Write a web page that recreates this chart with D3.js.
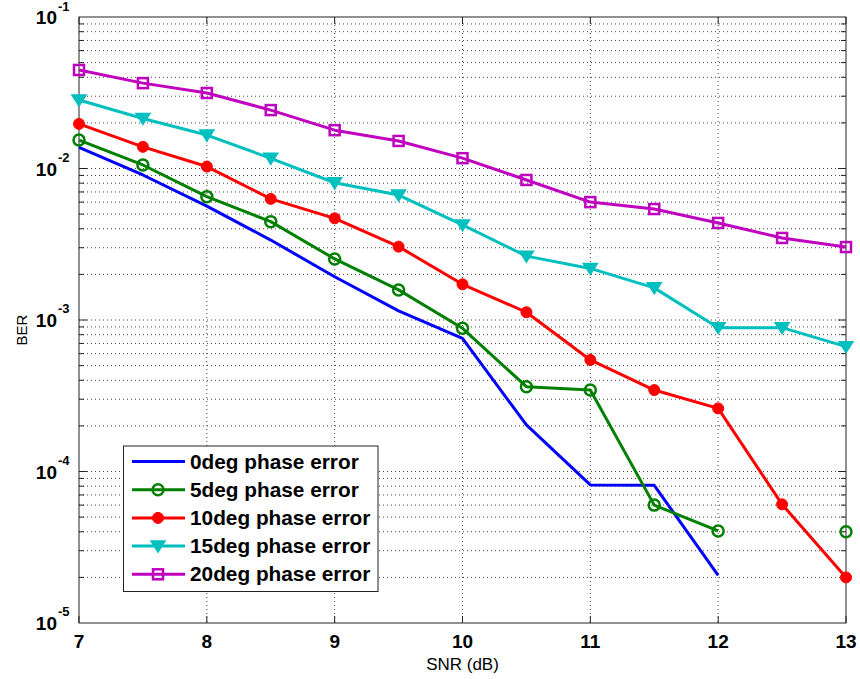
<!DOCTYPE html>
<html><head><meta charset="utf-8">
<script src="https://cdn.jsdelivr.net/npm/d3@7"></script>
<style>body{margin:0;background:#fff}svg{display:block;font-family:Arial,"Liberation Sans",sans-serif}</style>
</head><body>
<svg id="c" width="860" height="679"></svg>
<script>
const snr = [7, 7.5, 8, 8.5, 9, 9.5, 10, 10.5, 11, 11.5, 12, 12.5, 13];
const ber0 = [0.0138, 0.00906, 0.00565, 0.00337, 0.00193, 0.00115, 0.000757, 0.000203, 0.0000815, 0.000081, 0.0000206, null, null];
const ber5 = [0.0154, 0.01055, 0.00652, 0.00446, 0.00253, 0.00158, 0.000881, 0.000363, 0.000345, 0.00006, 0.0000405, null, 0.00004];
const ber10 = [0.0197, 0.0139, 0.0103, 0.0063, 0.00469, 0.00305, 0.00172, 0.001125, 0.000545, 0.000345, 0.000261, 0.0000607, 0.00002];
const ber15 = [0.0283, 0.0214, 0.01663, 0.01167, 0.00805, 0.00668, 0.00424, 0.00264, 0.00219, 0.00163, 0.00089, 0.00089, 0.000667];
const ber20 = [0.0447, 0.0366, 0.0315, 0.0243, 0.0179, 0.0152, 0.0117, 0.0084, 0.0060, 0.0054, 0.00437, 0.00348, 0.00303];
const seriesNames = ["0deg phase error", "5deg phase error", "10deg phase error", "15deg phase error", "20deg phase error"];
const xTicks = [7, 8, 9, 10, 11, 12, 13];
const yDecades = [-5, -4, -3, -2, -1];
const xLabel = "SNR (dB)";
const yLabel = "BER";

const series = [
  {name: seriesNames[0], values: ber0, color: "#0000ff", marker: "none"},
  {name: seriesNames[1], values: ber5, color: "#008000", marker: "circle"},
  {name: seriesNames[2], values: ber10, color: "#ff0000", marker: "dot"},
  {name: seriesNames[3], values: ber15, color: "#00bfbf", marker: "tri"},
  {name: seriesNames[4], values: ber20, color: "#bf00bf", marker: "square"}
];

const L = 79, R = 846, T = 17, B = 623;
const svg = d3.select("#c");
const x = d3.scaleLinear().domain([7, 13]).range([L, R]);
const y = d3.scaleLog().domain([1e-5, 1e-1]).range([B, T]);

// grid
const g = svg.append("g");
const minorVals = [];
for (let e = -5; e < -1; e++) for (let m = 1; m <= 9; m++) minorVals.push(m * Math.pow(10, e));
minorVals.push(1e-1);
g.selectAll("line.hg").data(minorVals.filter(v => v > 1e-5 && v < 1e-1)).join("line")
  .attr("x1", L).attr("x2", R).attr("y1", d => y(d)).attr("y2", d => y(d))
  .attr("stroke", "#444").attr("stroke-width", 1).attr("stroke-dasharray", "1,3");
g.selectAll("line.vg").data(xTicks.slice(1, -1)).join("line")
  .attr("x1", d => x(d)).attr("x2", d => x(d)).attr("y1", T).attr("y2", B)
  .attr("stroke", "#444").attr("stroke-width", 1).attr("stroke-dasharray", "1,3");

// axes box & ticks
const ax = svg.append("g");
ax.append("rect").attr("x", L).attr("y", T).attr("width", R - L).attr("height", B - T)
  .attr("fill", "none").attr("stroke", "#222").attr("stroke-width", 1);
const tk = minorVals.filter(v => v > 1e-5 && v < 1e-1);
tk.forEach(v => {
  const major = Math.abs(Math.log10(v) - Math.round(Math.log10(v))) < 1e-9;
  const len = major ? 8 : 5;
  ax.append("line").attr("x1", L).attr("x2", L + len).attr("y1", y(v)).attr("y2", y(v)).attr("stroke", "#222");
  ax.append("line").attr("x1", R).attr("x2", R - len).attr("y1", y(v)).attr("y2", y(v)).attr("stroke", "#222");
});
xTicks.forEach(v => {
  ax.append("line").attr("x1", x(v)).attr("x2", x(v)).attr("y1", B).attr("y2", B - 7).attr("stroke", "#222");
  ax.append("line").attr("x1", x(v)).attr("x2", x(v)).attr("y1", T).attr("y2", T + 7).attr("stroke", "#222");
});

// tick labels
ax.selectAll("text.xt").data(xTicks).join("text")
  .attr("x", d => x(d)).attr("y", 648).attr("text-anchor", "middle")
  .attr("font-size", 19).attr("font-weight", "bold").text(d => d);
yDecades.forEach(e => {
  const cy = y(Math.pow(10, e));
  ax.append("text").attr("x", 57).attr("y", cy + 7)
    .attr("text-anchor", "end").attr("font-size", 19).attr("font-weight", "bold").text("10");
  ax.append("text").attr("x", 58).attr("y", Math.max(cy - 7, 11))
    .attr("font-size", 13).attr("font-weight", "bold").text(String(e));
});
svg.append("text").attr("x", x(10)).attr("y", 670).attr("text-anchor", "middle")
  .attr("font-size", 17).text(xLabel);
svg.append("text").attr("transform", "translate(27,330) rotate(-90)").attr("text-anchor", "middle")
  .attr("font-size", 15).text(yLabel);

// data
const line = d3.line().defined(d => d[1] != null).x(d => x(d[0])).y(d => y(d[1]));
function drawMarker(sel, type, color, cx, cy) {
  if (type === "circle") sel.append("circle").attr("cx", cx).attr("cy", cy).attr("r", 5.5)
    .attr("fill", "none").attr("stroke", color).attr("stroke-width", 2.5);
  else if (type === "dot") sel.append("circle").attr("cx", cx).attr("cy", cy).attr("r", 5.5)
    .attr("fill", color).attr("stroke", color).attr("stroke-width", 1);
  else if (type === "tri") sel.append("path")
    .attr("d", `M${cx - 7},${cy - 5}L${cx + 7},${cy - 5}L${cx},${cy + 6}Z`)
    .attr("fill", color).attr("stroke", color).attr("stroke-width", 1.5);
  else if (type === "square") sel.append("rect").attr("x", cx - 5).attr("y", cy - 5)
    .attr("width", 10).attr("height", 10).attr("fill", "none").attr("stroke", color).attr("stroke-width", 2.5);
}
const dg = svg.append("g");
series.forEach(s => {
  const pts = snr.map((v, i) => [v, s.values[i]]);
  dg.append("path").datum(pts).attr("d", line).attr("fill", "none")
    .attr("stroke", s.color).attr("stroke-width", 3).attr("stroke-linejoin", "round");
  if (s.marker !== "none") pts.filter(p => p[1] != null).forEach(p => drawMarker(dg, s.marker, s.color, x(p[0]), y(p[1])));
});

// legend
const lg = svg.append("g");
lg.append("rect").attr("x", 123.5).attr("y", 446).attr("width", 254.5).attr("height", 145.5)
  .attr("fill", "#fff").attr("stroke", "#222").attr("stroke-width", 1);
series.forEach((s, i) => {
  const cy = 461.5 + i * 28.2;
  lg.append("line").attr("x1", 132).attr("x2", 185).attr("y1", cy).attr("y2", cy)
    .attr("stroke", s.color).attr("stroke-width", 3);
  drawMarker(lg, s.marker, s.color, 158, cy);
  lg.append("text").attr("x", 190).attr("y", cy + 7).attr("font-size", 20.8).attr("font-weight", "bold").text(s.name);
});
</script>
</body></html>
